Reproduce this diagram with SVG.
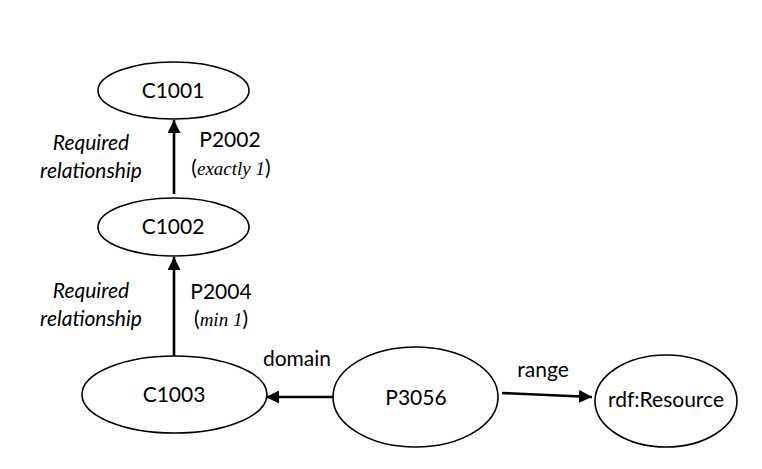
<svg xmlns="http://www.w3.org/2000/svg" width="762" height="469" viewBox="0 0 762 469">
<defs>
<style>
.node ellipse{fill:#fff;stroke:#000;stroke-width:1.6}
.t{font-family:Lato,"Open Sans","DejaVu Sans",sans-serif;font-size:21px;fill:#000;text-anchor:middle}
.lbl{font-family:Lato,"Open Sans","DejaVu Sans",sans-serif;font-size:21px;fill:#000;text-anchor:middle}
.it{font-style:italic}
.ser{font-family:"Liberation Serif","DejaVu Serif",serif;font-style:italic;font-size:19px}
.edge{stroke:#000;stroke-width:2.6;fill:none}
</style>
<marker id="ah" viewBox="0 0 10 10" refX="10" refY="5" markerWidth="5" markerHeight="5" markerUnits="strokeWidth" orient="auto">
<path d="M0,0 L10,5 L0,10 z" fill="#000"/>
</marker>
</defs>
<rect width="762" height="469" fill="#fff"/>
<g id="connectors">
<line class="edge" x1="174" y1="194" x2="174" y2="120" marker-end="url(#ah)"/>
<line class="edge" x1="174" y1="356" x2="174" y2="257" marker-end="url(#ah)"/>
<line class="edge" x1="333" y1="397" x2="266" y2="397" marker-end="url(#ah)"/>
<line class="edge" x1="502" y1="393" x2="592" y2="397" marker-end="url(#ah)"/>
</g>
<g id="C1001" class="node"><ellipse cx="173.5" cy="90.5" rx="75.5" ry="28.5"/><text class="t" x="173" y="98">C1001</text></g>
<g id="C1002" class="node"><ellipse cx="173.5" cy="227" rx="75.5" ry="29"/><text class="t" x="173" y="234">C1002</text></g>
<g id="C1003" class="node"><ellipse cx="174.5" cy="394.5" rx="92.5" ry="38.5"/><text class="t" x="174" y="402">C1003</text></g>
<g id="P3056" class="node"><ellipse cx="415.5" cy="397" rx="82.5" ry="50"/><text class="t" x="416" y="405">P3056</text></g>
<g id="rdfResource" class="node"><ellipse cx="666" cy="401" rx="71" ry="46"/><text class="t" x="666" y="407">rdf:Resource</text></g>
<g id="labels">
<text class="lbl it" x="91" y="150">Required</text>
<text class="lbl it" x="91" y="178">relationship</text>
<text class="lbl" x="230" y="147">P2002</text>
<text class="lbl" x="231" y="175">(<tspan class="ser">exactly 1</tspan>)</text>
<text class="lbl it" x="91" y="298">Required</text>
<text class="lbl it" x="91" y="326">relationship</text>
<text class="lbl" x="221" y="299">P2004</text>
<text class="lbl" x="221" y="326">(<tspan class="ser">min 1</tspan>)</text>
<text class="lbl" x="297" y="366">domain</text>
<text class="lbl" x="543" y="377">range</text>
</g>
</svg>
